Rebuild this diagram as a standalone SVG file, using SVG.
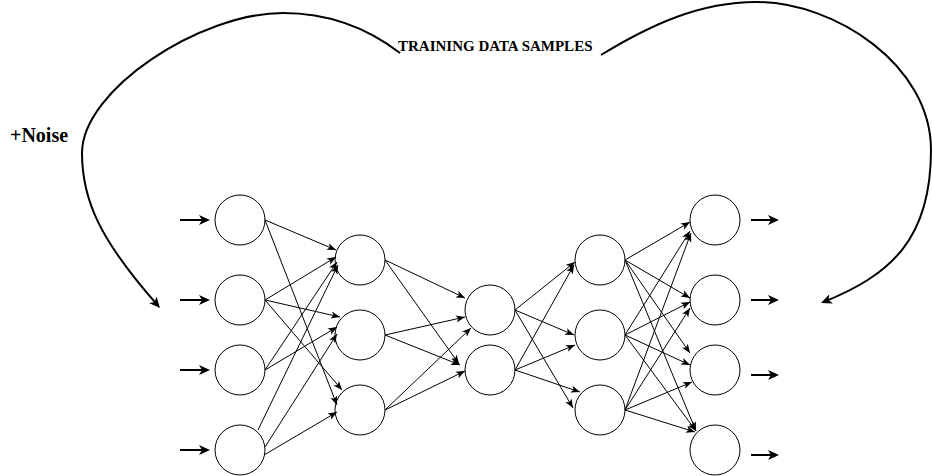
<svg xmlns="http://www.w3.org/2000/svg" width="932" height="476" viewBox="0 0 932 476">
<style>
.node{fill:#fff;stroke:#000;stroke-width:1}
.e{stroke:#000;stroke-width:1;fill:none;marker-end:url(#arr)}
.b{stroke:#000;stroke-width:2;fill:none;marker-end:url(#arrB)}
.c{stroke:#000;stroke-width:2;fill:none}
.t{font-family:"Liberation Serif","Times New Roman",serif;font-weight:bold;fill:#000}
</style>
<defs>
<marker id="arr" markerUnits="userSpaceOnUse" viewBox="0 -4 9 8" markerWidth="9" markerHeight="8" refX="9" refY="0" orient="auto">
<path d="M9,0 L0,-3.6 L2.3,0 L0,3.6 Z" fill="#000"/>
</marker>
<marker id="arrB" markerUnits="userSpaceOnUse" viewBox="0 -5 11 10" markerWidth="11" markerHeight="10" refX="8" refY="0" orient="auto">
<path d="M11,0 L0,-5 L3,0 L0,5 Z" fill="#000"/>
</marker>
</defs>
<rect width="932" height="476" fill="#fff"/>
<text class="t" x="398" y="51" font-size="15">TRAINING DATA SAMPLES</text>
<text class="t" x="10" y="142" font-size="20">+Noise</text>
<g id="nodes">
<g id="in1"><circle class="node" cx="240" cy="220" r="25"/></g>
<g id="in2"><circle class="node" cx="240" cy="300" r="25"/></g>
<g id="in3"><circle class="node" cx="240" cy="370" r="25"/></g>
<g id="in4"><circle class="node" cx="240" cy="450" r="25"/></g>
<g id="h1a"><circle class="node" cx="360" cy="260" r="25"/></g>
<g id="h1b"><circle class="node" cx="360" cy="335" r="25"/></g>
<g id="h1c"><circle class="node" cx="360" cy="410" r="25"/></g>
<g id="z1"><circle class="node" cx="490" cy="310" r="25"/></g>
<g id="z2"><circle class="node" cx="490" cy="370" r="25"/></g>
<g id="h2a"><circle class="node" cx="600" cy="260" r="25"/></g>
<g id="h2b"><circle class="node" cx="600" cy="335" r="25"/></g>
<g id="h2c"><circle class="node" cx="600" cy="410" r="25"/></g>
<g id="out1"><circle class="node" cx="715" cy="220" r="25"/></g>
<g id="out2"><circle class="node" cx="715" cy="300" r="25"/></g>
<g id="out3"><circle class="node" cx="715" cy="370" r="25"/></g>
<g id="out4"><circle class="node" cx="715" cy="450" r="25"/></g>
</g>
<g id="connectors">
<path class="c" d="M400,53 C370,30 330,13 283,13 C200,13 82,90 82,153 C82,200 100,240 158,305.7" marker-end="url(#arrB)"/>
<path class="c" d="M601,55 C650,25 700,2 756,2 C835,2 931,65 931,150 C931,240 890,275 823.8,301.9" marker-end="url(#arrB)"/>
<line class="b" x1="180" y1="220" x2="207" y2="220"/>
<line class="b" x1="180" y1="300" x2="207" y2="300"/>
<line class="b" x1="180" y1="370" x2="207" y2="370"/>
<line class="b" x1="180" y1="450" x2="207" y2="450"/>
<line class="b" x1="751" y1="220" x2="776" y2="220"/>
<line class="b" x1="751" y1="300" x2="776" y2="300"/>
<line class="b" x1="751" y1="375" x2="776" y2="375"/>
<line class="b" x1="751" y1="455" x2="776" y2="455"/>
<line class="e" x1="265" y1="220" x2="336" y2="250"/>
<line class="e" x1="265" y1="220" x2="337" y2="405"/>
<line class="e" x1="265" y1="300" x2="336" y2="257"/>
<line class="e" x1="265" y1="300" x2="340" y2="317"/>
<line class="e" x1="265" y1="300" x2="342" y2="390"/>
<line class="e" x1="265" y1="370" x2="337" y2="262"/>
<line class="e" x1="265" y1="370" x2="337" y2="327"/>
<line class="e" x1="258" y1="430" x2="338" y2="265"/>
<line class="e" x1="265" y1="447" x2="337" y2="334"/>
<line class="e" x1="264" y1="455" x2="337" y2="412"/>
<line class="e" x1="385" y1="260" x2="465" y2="298"/>
<line class="e" x1="385" y1="260" x2="459" y2="364"/>
<line class="e" x1="385" y1="335" x2="465" y2="317"/>
<line class="e" x1="385" y1="335" x2="460" y2="365"/>
<line class="e" x1="385" y1="410" x2="471" y2="328"/>
<line class="e" x1="385" y1="410" x2="465" y2="371"/>
<line class="e" x1="515" y1="310" x2="575" y2="262"/>
<line class="e" x1="515" y1="310" x2="574" y2="335"/>
<line class="e" x1="515" y1="310" x2="573" y2="408"/>
<line class="e" x1="515" y1="370" x2="574" y2="265"/>
<line class="e" x1="515" y1="370" x2="575" y2="345"/>
<line class="e" x1="515" y1="370" x2="580" y2="392"/>
<line class="e" x1="625" y1="260" x2="690" y2="222"/>
<line class="e" x1="625" y1="260" x2="690" y2="298"/>
<line class="e" x1="625" y1="260" x2="690" y2="353"/>
<line class="e" x1="625" y1="260" x2="696" y2="431"/>
<line class="e" x1="625" y1="335" x2="690" y2="231"/>
<line class="e" x1="625" y1="335" x2="690" y2="302"/>
<line class="e" x1="625" y1="335" x2="690" y2="365"/>
<line class="e" x1="625" y1="335" x2="696" y2="431"/>
<line class="e" x1="625" y1="410" x2="691" y2="233"/>
<line class="e" x1="625" y1="410" x2="690" y2="308"/>
<line class="e" x1="625" y1="410" x2="692" y2="382"/>
<line class="e" x1="625" y1="410" x2="695" y2="432"/>
</g>
</svg>
